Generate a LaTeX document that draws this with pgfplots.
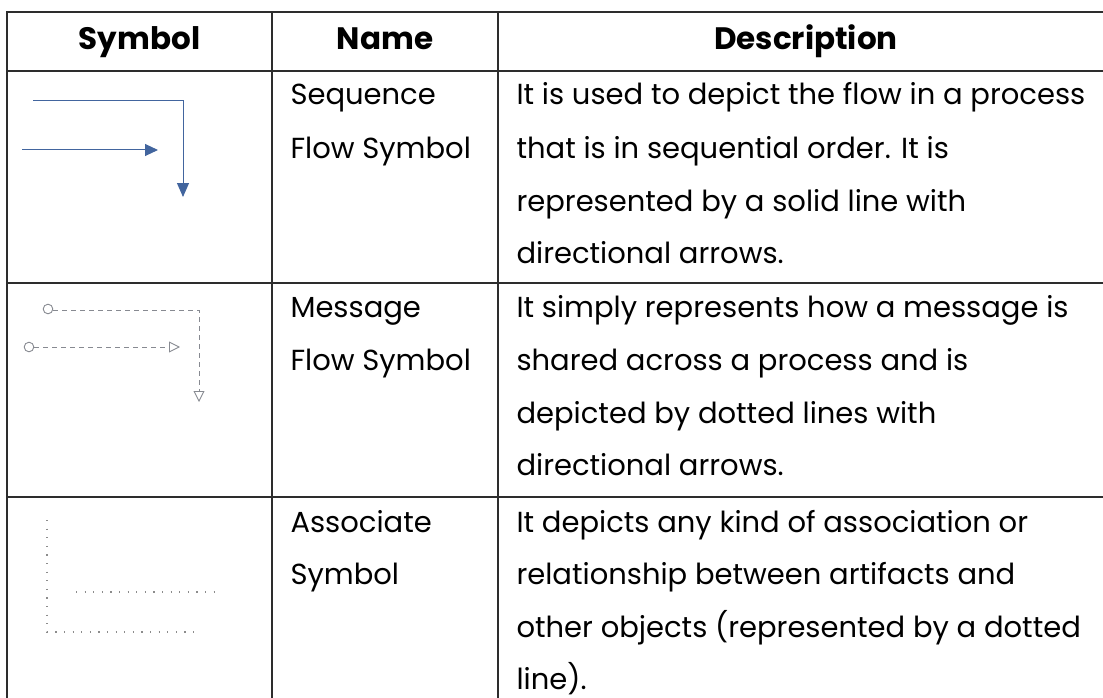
\documentclass[border=0pt]{standalone}
\usepackage{pgfplots}
\pgfplotsset{compat=1.18}
\usetikzlibrary{arrows.meta}
\usepackage{fontspec}
\setmainfont{Poppins}
\definecolor{seqblue}{RGB}{66,101,158}
\definecolor{msggray}{RGB}{135,138,145}
\definecolor{dotgray}{RGB}{140,140,140}
\definecolor{border}{RGB}{45,45,45}
\begin{document}
\begin{tikzpicture}
\begin{axis}[
  hide axis, scale only axis,
  width=1103pt, height=698pt,
  xmin=0, xmax=1103, ymin=0, ymax=698,
  y dir=reverse, clip=false,
  every node/.style={inner sep=0pt, outer sep=0pt},
]
% table grid
\addplot[border, line width=1.6pt] coordinates {(7,12) (1103,12)};
\addplot[border, line width=1.6pt] coordinates {(7,71) (1103,71)};
\addplot[border, line width=1.6pt] coordinates {(7,283) (1103,283)};
\addplot[border, line width=1.6pt] coordinates {(7,497) (1103,497)};
\addplot[border, line width=1.6pt] coordinates {(7,11.2) (7,698)};
\addplot[border, line width=1.6pt] coordinates {(272,11.2) (272,698)};
\addplot[border, line width=1.6pt] coordinates {(498,11.2) (498,698)};
% sequence flow symbol
\addplot[seqblue, line width=1pt, -{Triangle[length=14pt,width=12pt]}] coordinates {(33,101) (183,101) (183,197)};
\addplot[seqblue, line width=1pt, -{Triangle[length=13pt,width=12pt]}] coordinates {(22,150) (158,150)};
% message flow symbol
\addplot[msggray, line width=0.9pt, dash pattern=on 5pt off 4pt, -{Triangle[open,length=11pt,width=11pt]}] coordinates {(53,310) (199,310) (199,402)};
\addplot[msggray, line width=0.9pt, dash pattern=on 5pt off 4pt, -{Triangle[open,length=11pt,width=11pt]}] coordinates {(34,347) (180,347)};
\addplot[msggray, only marks, mark=o, mark size=4.8pt, mark options={line width=0.9pt, solid}] coordinates {(48,309) (29,347)};
% associate symbol
\addplot[dotgray, line width=1.1pt, dash pattern=on 1.1pt off 7.5pt] coordinates {(47,520) (47,632) (200,632)};
\addplot[dotgray, line width=1.1pt, dash pattern=on 1.1pt off 7.5pt] coordinates {(76,592) (217,592)};
% header
\node[anchor=base, font=\fontsize{31}{36}\selectfont\bfseries] at (axis cs:139.5,50) {Symbol};
\node[anchor=base, font=\fontsize{31}{36}\selectfont\bfseries] at (axis cs:385,50) {Name};
\node[anchor=base, font=\fontsize{31}{36}\selectfont\bfseries] at (axis cs:806,50) {Description};
% names
\begin{scope}[every node/.append style={anchor=base west, font=\fontsize{29}{34}\selectfont}]
\node at (axis cs:287,105) {Sequence};
\node at (axis cs:287,158) {Flow Symbol};
\node at (axis cs:287,317) {Message};
\node at (axis cs:287,370) {Flow Symbol};
\node at (axis cs:287,532) {Associate};
\node at (axis cs:287,584) {Symbol};
% descriptions
\node at (axis cs:513,105) {It is used to depict the flow in a process};
\node at (axis cs:513,158) {that is in sequential order. It is};
\node at (axis cs:513,211) {represented by a solid line with};
\node at (axis cs:513,263) {directional arrows.};
\node at (axis cs:513,317) {It simply represents how a message is};
\node at (axis cs:513,370) {shared across a process and is};
\node at (axis cs:513,423) {depicted by dotted lines with};
\node at (axis cs:513,475) {directional arrows.};
\node at (axis cs:513,532) {It depicts any kind of association or};
\node at (axis cs:513,584) {relationship between artifacts and};
\node at (axis cs:513,637) {other objects (represented by a dotted};
\node at (axis cs:513,689) {line).};
\end{scope}
\end{axis}
\pgfresetboundingbox
\path[use as bounding box] (current axis.south west) rectangle (current axis.north east);
\end{tikzpicture}
\end{document}
